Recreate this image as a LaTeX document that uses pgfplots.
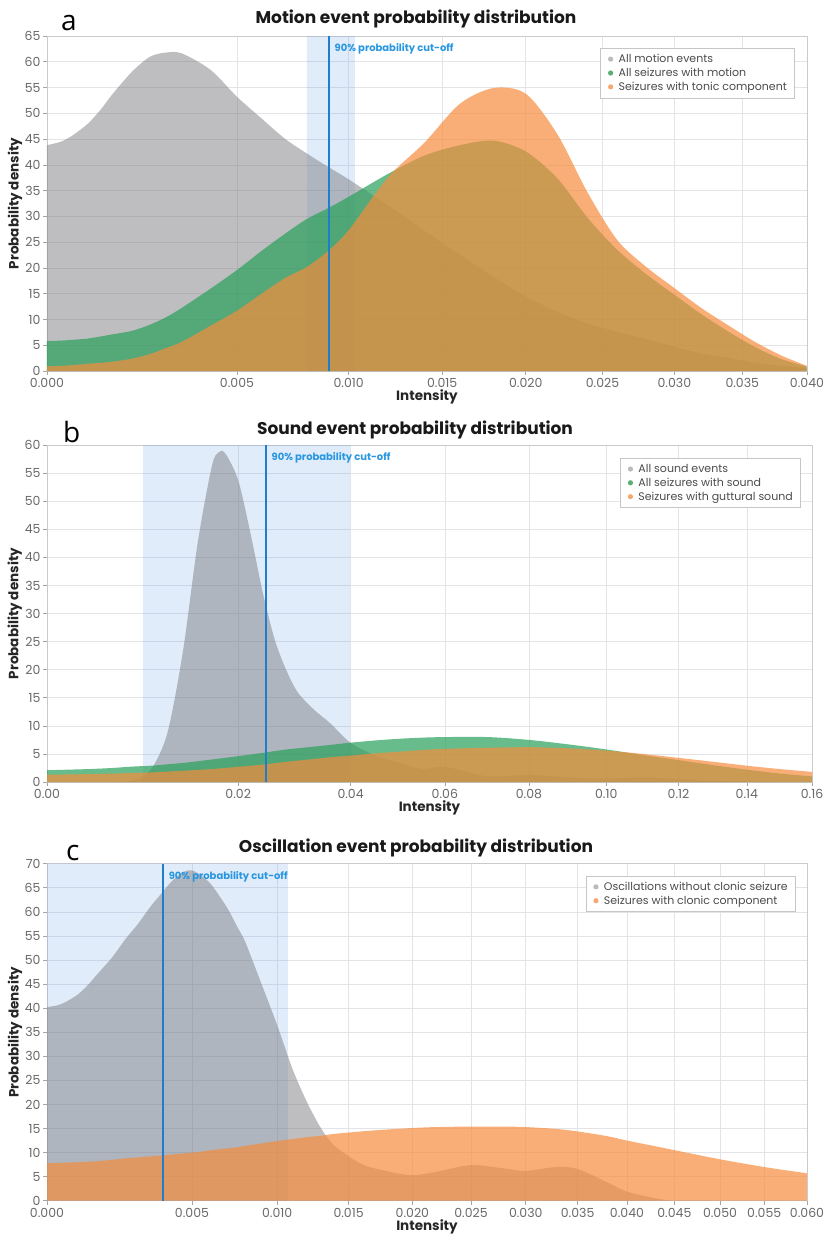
\documentclass[border=0pt]{standalone}
\usepackage{fontspec}
\setmainfont{Poppins}
\newfontfamily\letterfont{Open Sans}
\usepackage{pgfplots}
\usepackage{pgfplotstable}
\pgfplotsset{compat=1.18}

\definecolor{cgray}{RGB}{126,126,130}
\definecolor{cgreen}{RGB}{40,160,90}
\definecolor{corange}{RGB}{245,140,60}
\definecolor{cband}{RGB}{100,160,230}
\definecolor{cline}{RGB}{30,125,205}
\definecolor{clabel}{RGB}{40,150,225}
\definecolor{cgrid}{RGB}{228,228,232}
\definecolor{ctick}{RGB}{105,105,105}
\definecolor{cdotgray}{RGB}{120,120,125}
\definecolor{cdotgreen}{RGB}{20,140,60}
\definecolor{cdotorange}{RGB}{245,130,50}

% Panel a: motion
\pgfplotstableread{
x gray green orange
0 43.8 5.8 0.9
0.0001 44.5 5.9 1.0
0.0002 45.3 6.0 1.1
0.0003 46.2 6.1 1.2
0.0005 48.0 6.3 1.4
0.00075 50.7 6.7 1.6
0.001 53.6 7.1 1.8
0.0015 58.1 7.8 2.4
0.002 61.0 9.0 3.3
0.0025 61.8 10.5 4.5
0.003 61.6 12.3 5.7
0.004 58.4 16.0 8.8
0.005 53.2 19.6 11.7
0.006 49.0 23.3 15.0
0.007 45.1 26.6 18.0
0.008 42.2 29.5 20.2
0.009 39.6 31.6 23.3
0.010 37.2 33.8 27.3
0.012 32.2 38.2 37.5
0.014 27.2 41.8 44.3
0.016 22.6 43.8 51.8
0.018 18.3 44.7 54.9
0.020 14.4 42.6 53.8
0.022 11.5 37.4 46.0
0.024 9.2 29.7 34.6
0.026 7.6 23.5 25.4
0.028 6.2 18.8 20.2
0.030 4.7 14.8 16.1
0.032 3.4 11.0 12.2
0.034 2.5 7.6 8.8
0.036 1.6 4.6 5.6
0.038 1.0 2.3 3.0
0.040 0.6 0.9 1.0
}\tA

% Panel b: sound
\pgfplotstableread{
x gray green orange
0 0 2.1 1.3
0.002 0 2.3 1.4
0.004 0 2.5 1.5
0.006 0.3 2.75 1.6
0.008 2.2 2.9 1.7
0.010 8.8 3.15 1.85
0.012 23.4 3.4 2.0
0.014 42.7 3.7 2.15
0.016 56.2 4.0 2.3
0.017 58.7 4.15 2.4
0.018 58.5 4.3 2.5
0.020 53.7 4.6 2.7
0.022 44.0 4.9 2.9
0.024 33.6 5.2 3.1
0.026 25.3 5.5 3.35
0.028 19.9 5.8 3.6
0.030 16.0 6.0 3.8
0.033 12.9 6.3 4.1
0.036 10.5 6.6 4.4
0.040 7.0 7.0 4.7
0.045 4.7 7.4 5.1
0.050 3.4 7.7 5.4
0.055 2.3 7.9 5.7
0.060 2.7 8.0 5.9
0.070 1.0 8.0 6.1
0.080 1.3 7.5 6.2
0.090 0.8 6.7 6.0
0.100 0.6 5.8 5.6
0.110 0.8 4.8 5.0
0.120 0.5 3.9 4.3
0.130 0.2 3.0 3.6
0.140 0.1 2.2 2.9
0.150 0 1.5 2.3
0.160 0 1.0 1.8
}\tB

% Panel c: oscillation
\pgfplotstableread{
x gray orange
0 40.2 7.8
0.0001 40.6 7.85
0.0002 41.1 7.9
0.0003 41.7 7.95
0.0005 42.9 8.0
0.00075 44.8 8.1
0.001 46.9 8.2
0.0015 50.5 8.5
0.002 54.4 8.8
0.0025 57.6 9.0
0.003 61.0 9.2
0.0035 63.8 9.4
0.004 66.4 9.6
0.0045 68.2 9.8
0.005 68.6 10.0
0.0055 67.5 10.2
0.006 65.8 10.5
0.0065 63.2 10.7
0.007 60.4 10.9
0.0075 57.0 11.1
0.008 53.7 11.4
0.009 45.0 11.9
0.010 36.5 12.4
0.011 27.5 12.8
0.012 20.5 13.2
0.013 15.0 13.5
0.014 11.3 13.9
0.016 7.6 14.4
0.018 6.1 14.8
0.020 5.3 15.1
0.022 6.0 15.3
0.025 7.4 15.4
0.028 6.7 15.4
0.030 6.2 15.3
0.033 7.0 14.9
0.035 6.6 14.4
0.038 3.8 13.4
0.040 1.9 12.5
0.043 0.5 11.3
0.045 0 10.5
0.050 0 8.6
0.055 0 7.0
0.060 0 5.7
}\tC

\tikzset{
  cutlabel/.style={pos=1, anchor=west, xshift=4pt, yshift=-13pt, text=clabel,
      font=\bfseries\fontsize{10}{12}\selectfont, inner sep=1pt},
  lettr/.style={font=\letterfont\fontsize{28}{30}\selectfont, anchor=base west, inner sep=0pt},
  ttl/.style={font=\bfseries\fontsize{17}{19}\selectfont, anchor=base, inner sep=0pt, text=black!90},
}

\pgfplotsset{
  panel/.style={
    scale only axis,
    anchor=south west,
    x filter/.expression={x^(2/3)},
    ymin=0,
    enlargelimits=false,
    grid=major,
    grid style={cgrid, line width=0.6pt},
    axis line style={cgrid!75!gray, line width=0.6pt},
    tick pos=left,
    tick align=outside,
    major tick length=4pt,
    tick style={ctick!60, line width=0.6pt},
    /pgf/number format/assume math mode=true,
    tick label style={font=\fontsize{12.5}{14}\selectfont, text=ctick},
    yticklabel style={xshift=1pt},
    xlabel={\bfseries Intensity},
    ylabel={\bfseries Probability density},
    label style={font=\fontsize{13.5}{15}\selectfont, text=black!85},
    x label style={at={(axis description cs:0.5,0)}, anchor=center, yshift=-26pt},
    legend cell align=left,
    legend style={at={(1,1)}, anchor=north east, draw=cgrid!70!gray, fill=white,
      font=\fontsize{11}{12.5}\selectfont, text=black!70, inner xsep=5pt, inner ysep=4pt, row sep=0pt},
    axis on top=false,
  },
  kde/.style={draw=none, smooth},
  band/.style={forget plot, fill=cband, draw=none, fill opacity=0.2},
  cut/.style={forget plot, draw=cline, line width=1.5pt},
  dotg/.style={legend image code/.code={\path (0pt,0pt) (11pt,0pt); \fill[cdotgray] (5pt,0pt) circle (2.6pt);}},
  dotgr/.style={legend image code/.code={\path (0pt,0pt) (11pt,0pt); \fill[cdotgreen] (5pt,0pt) circle (2.6pt);}},
  doto/.style={legend image code/.code={\path (0pt,0pt) (11pt,0pt); \fill[cdotorange] (5pt,0pt) circle (2.6pt);}},
}

\begin{document}
\begin{tikzpicture}
\useasboundingbox (0pt,0pt) rectangle (828pt,-1235pt);

% ---------------- Panel a ----------------
\node[lettr] at (61pt,-30pt) {a};
\node[ttl] at (416pt,-23pt) {Motion event probability distribution};
\begin{axis}[panel, at={(47pt,-371pt)}, width=760pt, height=335pt,
  xmin=0, xmax=0.11696, ymax=65, ytick={0,5,...,65},
  xtick={0,0.02924,0.04642,0.06082,0.07368,0.08550,0.09655,0.10700,0.11696},
  xticklabels={0.000,0.005,0.010,0.015,0.020,0.025,0.030,0.035,0.040},
  y label style={at={(axis description cs:-0.042,0.5)}, anchor=center},
  legend style={xshift=-13pt, yshift=-12pt}]
\addplot[band] coordinates {(0.0080,0) (0.0080,65) (0.01031,65) (0.01031,0)} \closedcycle;
\addplot[kde, fill=cgray, fill opacity=0.5, dotg] table[x=x, y=gray] {\tA} \closedcycle;
\addlegendentry{All motion events}
\addplot[kde, fill=cgreen, fill opacity=0.7, dotgr] table[x=x, y=green] {\tA} \closedcycle;
\addlegendentry{All seizures with motion}
\addplot[kde, fill=corange, fill opacity=0.7, doto] table[x=x, y=orange] {\tA} \closedcycle;
\addlegendentry{Seizures with tonic component}
\addplot[cut] coordinates {(0.00904,0) (0.00904,65)} node[cutlabel] {90\% probability cut-off};
\end{axis}

% ---------------- Panel b ----------------
\node[lettr] at (63pt,-442pt) {b};
\node[ttl] at (415pt,-434pt) {Sound event probability distribution};
\begin{axis}[panel, at={(47pt,-782pt)}, width=765pt, height=337pt,
  xmin=0, xmax=0.29472, ymax=60, ytick={0,5,...,60},
  xtick={0,0.07368,0.11696,0.15326,0.18566,0.21544,0.24329,0.26962,0.29472},
  xticklabels={0.00,0.02,0.04,0.06,0.08,0.10,0.12,0.14,0.16},
  y label style={at={(axis description cs:-0.042,0.5)}, anchor=center},
  legend style={xshift=-12pt, yshift=-13pt}]
\addplot[band] coordinates {(0.00711,0) (0.00711,60) (0.0399,60) (0.0399,0)} \closedcycle;
\addplot[kde, fill=cgray, fill opacity=0.5, dotg] table[x=x, y=gray] {\tB} \closedcycle;
\addlegendentry{All sound events}
\addplot[kde, fill=cgreen, fill opacity=0.7, dotgr] table[x=x, y=green] {\tB} \closedcycle;
\addlegendentry{All seizures with sound}
\addplot[kde, fill=corange, fill opacity=0.7, doto] table[x=x, y=orange] {\tB} \closedcycle;
\addlegendentry{Seizures with guttural sound}
\addplot[cut] coordinates {(0.0245,0) (0.0245,60)} node[cutlabel] {90\% probability cut-off};
\end{axis}

% ---------------- Panel c ----------------
\node[lettr] at (66pt,-860pt) {c};
\node[ttl] at (416pt,-852pt) {Oscillation event probability distribution};
\begin{axis}[panel, at={(47pt,-1200.7pt)}, width=760pt, height=337pt,
  xmin=0, xmax=0.15326, ymax=70, ytick={0,5,...,70},
  xtick={0,0.02924,0.04642,0.06082,0.07368,0.08550,0.09655,0.10700,0.11696,0.12652,0.13572,0.14463,0.15326},
  xticklabels={0.000,0.005,0.010,0.015,0.020,0.025,0.030,0.035,0.040,0.045,0.050,0.055,0.060},
  y label style={at={(axis description cs:-0.042,0.5)}, anchor=center},
  legend style={xshift=-12pt, yshift=-12pt}]
\addplot[band] coordinates {(0,0) (0,70) (0.01071,70) (0.01071,0)} \closedcycle;
\addplot[kde, fill=cgray, fill opacity=0.5, dotg] table[x=x, y=gray] {\tC} \closedcycle;
\addlegendentry{Oscillations without clonic seizure}
\addplot[kde, fill=corange, fill opacity=0.7, doto] table[x=x, y=orange] {\tC} \closedcycle;
\addlegendentry{Seizures with clonic component}
\addplot[cut] coordinates {(0.00358,0) (0.00358,70)} node[cutlabel] {90\% probability cut-off};
\end{axis}
\end{tikzpicture}
\end{document}
